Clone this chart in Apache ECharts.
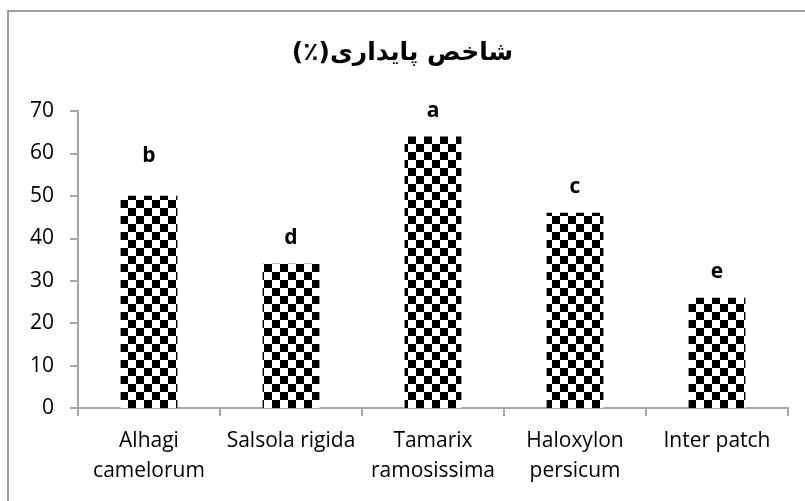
<!DOCTYPE html>
<html>
<head>
<meta charset="utf-8">
<script src="https://cdn.jsdelivr.net/npm/echarts@6/dist/echarts.min.js"></script>
<style>
  html, body { margin: 0; padding: 0; background: #fff; }
  #chart { width: 805px; height: 501px; }
</style>
</head>
<body>
<div id="chart"></div>
<script>
const categories = ['Alhagi\ncamelorum', 'Salsola rigida', 'Tamarix\nramosissima', 'Haloxylon\npersicum', 'Inter patch']
const values = [50, 34, 64, 46, 26]
const letters = ['b', 'd', 'a', 'c', 'e']
const titleText = 'شاخص پایداری(٪)'

// checker fill, like the Excel pattern
function checker (size) {
  const c = document.createElement('canvas')
  c.width = size * 2
  c.height = size * 2
  const ctx = c.getContext('2d')
  ctx.fillStyle = '#fff'
  ctx.fillRect(0, 0, size * 2, size * 2)
  ctx.fillStyle = '#000'
  ctx.fillRect(0, 0, size, size)
  ctx.fillRect(size, size, size, size)
  return c
}

const font = 'Open Sans, Liberation Sans, sans-serif'
const axisColor = '#a6a6a6'

const chart = echarts.init(document.getElementById('chart'), null, { renderer: 'canvas' })

chart.setOption({
  animation: false,
  backgroundColor: '#fff',
  title: {
    // RLE ... PDF so the canvas lays the Persian out right-to-left
    text: '\u202B' + titleText + '\u202C',
    left: 'center',
    top: 36,
    textStyle: { fontFamily: 'DejaVu Sans', fontWeight: 'bold', fontSize: 25, color: '#000' }
  },
  graphic: [{
    type: 'rect',
    shape: { x: 8, y: 11, width: 820, height: 520 },
    style: { fill: 'none', stroke: '#a0a0a0', lineWidth: 2 },
    silent: true
  }],
  grid: { left: 78, right: 17, top: 111, bottom: 93 },
  xAxis: {
    type: 'category',
    data: categories,
    axisLine: { lineStyle: { color: axisColor, width: 2 } },
    axisTick: { show: true, alignWithLabel: false, length: 8, lineStyle: { color: axisColor, width: 2 } },
    axisLabel: { color: '#000', fontFamily: font, fontSize: 21, lineHeight: 30, margin: 18, interval: 0 }
  },
  yAxis: {
    type: 'value',
    min: 0,
    max: 70,
    interval: 10,
    splitLine: { show: false },
    axisLine: { show: true, lineStyle: { color: axisColor, width: 2 } },
    axisTick: { show: true, length: 8, lineStyle: { color: axisColor, width: 2 } },
    axisLabel: { color: '#000', fontFamily: font, fontSize: 21, margin: 24 }
  },
  series: [{
    type: 'bar',
    data: values.map((v, i) => i === 0 ? { value: v, label: { distance: 29 } } : v),
    barWidth: '40%',
    itemStyle: { color: { image: checker(8), repeat: 'repeat' } },
    label: {
      show: true,
      position: 'top',
      distance: 15,
      formatter: p => letters[p.dataIndex],
      color: '#000',
      fontFamily: font,
      fontWeight: 'bold',
      fontSize: 21
    }
  }]
})
</script>
</body>
</html>
